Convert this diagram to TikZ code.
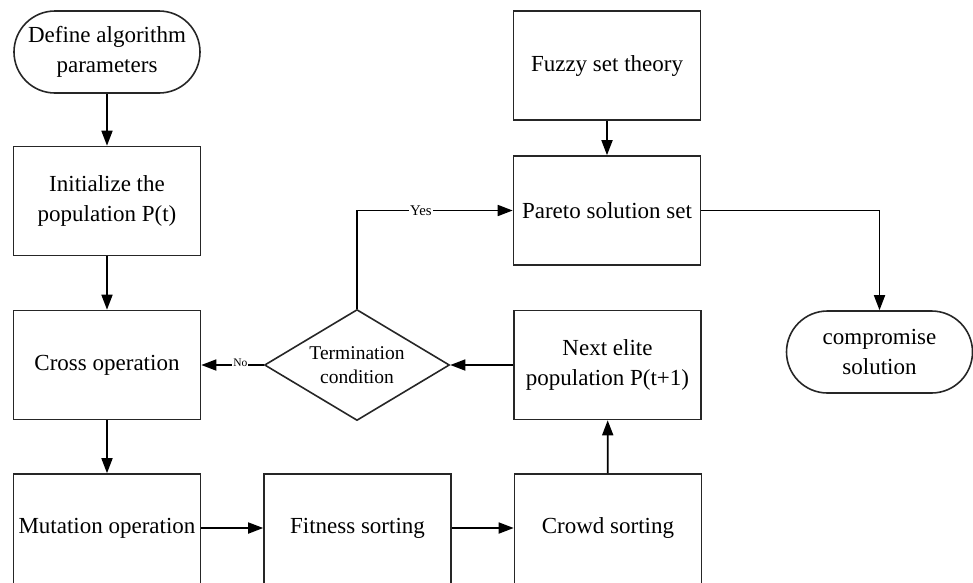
\documentclass[tikz,border=0pt]{standalone}
\usepackage{fontspec}
\setmainfont{Liberation Serif}
\newfontfamily\labelface{Liberation Serif}
\usetikzlibrary{shapes.geometric,arrows.meta}

\tikzset{
  every node/.style={font=\labelface\fontsize{23}{30}\selectfont, align=center},
  procbox/.style={draw=black!85, line width=1.6pt, inner sep=0pt,
    minimum width=187pt, minimum height=109pt},
  termbox/.style={draw=black!85, line width=1.6pt, inner sep=0pt,
    minimum width=186pt, minimum height=82pt, rounded corners=41pt},
  decision/.style={diamond, draw=black!85, line width=1.6pt, inner sep=0pt,
    aspect=1.667, minimum width=185pt, minimum height=111pt,
    font=\labelface\fontsize{19.5}{24}\selectfont},
  flow/.style={line width=1.7pt, -{Triangle[length=15pt,width=11pt]}},
  edgelabel/.style={fill=white, inner sep=1pt},
}

\begin{document}
\begin{tikzpicture}[x=1pt, y=-1pt]
  \useasboundingbox (0,0) rectangle (973,582);

  % left column
  \node[termbox] (def) at (107,52) {Define algorithm\\parameters};
  \node[procbox] (init) at (107,201) {Initialize the\\population P(t)};
  \node[procbox] (cross) at (107,365) {Cross operation};
  \node[procbox, minimum height=112pt] (mut) at (107,530) {};
  \node (muttext) at (107,528) {Mutation operation};

  % bottom row
  \node[procbox, minimum height=112pt] (fit) at (357.5,530) {};
  \node (fittext) at (357.5,528) {Fitness sorting};
  \node[procbox, minimum height=112pt] (crowd) at (608,530) {};
  \node (crowdtext) at (608,528) {Crowd sorting};

  % middle and right
  \node[decision] (cond) at (357,365) {Termination\\condition};
  \node[procbox] (elite) at (607.5,365) {Next elite\\population P(t+1)};
  \node[procbox] (fuzzy) at (607,65.5) {Fuzzy set theory};
  \node[procbox] (pareto) at (607,210.5) {Pareto solution set};
  \node[termbox] (comp) at (879.5,352) {compromise\\solution};

  % connectors
  \draw[flow] (def) -- (init);
  \draw[flow] (init) -- (cross);
  \draw[flow] (cross) -- (mut);
  \draw[flow] (mut.east |- muttext) -- (fit.west |- muttext);
  \draw[flow] (fit.east |- fittext) -- (crowd.west |- fittext);
  \draw[flow] (crowd) -- (elite);
  \draw[flow] (elite) -- (cond.east);
  \draw[flow] (cond.west) -- node[edgelabel, pos=0.375, yshift=2pt,
    font=\labelface\fontsize{11.5}{13}\selectfont] {No} (cross.east);
  \draw[flow] (cond.north) |- node[edgelabel, pos=0.705,
    font=\labelface\fontsize{14.8}{17}\selectfont] {Yes} (pareto.west);
  \draw[flow] (fuzzy) -- (pareto);
  \draw[flow] (pareto.east) -| (comp.north);
\end{tikzpicture}
\end{document}
